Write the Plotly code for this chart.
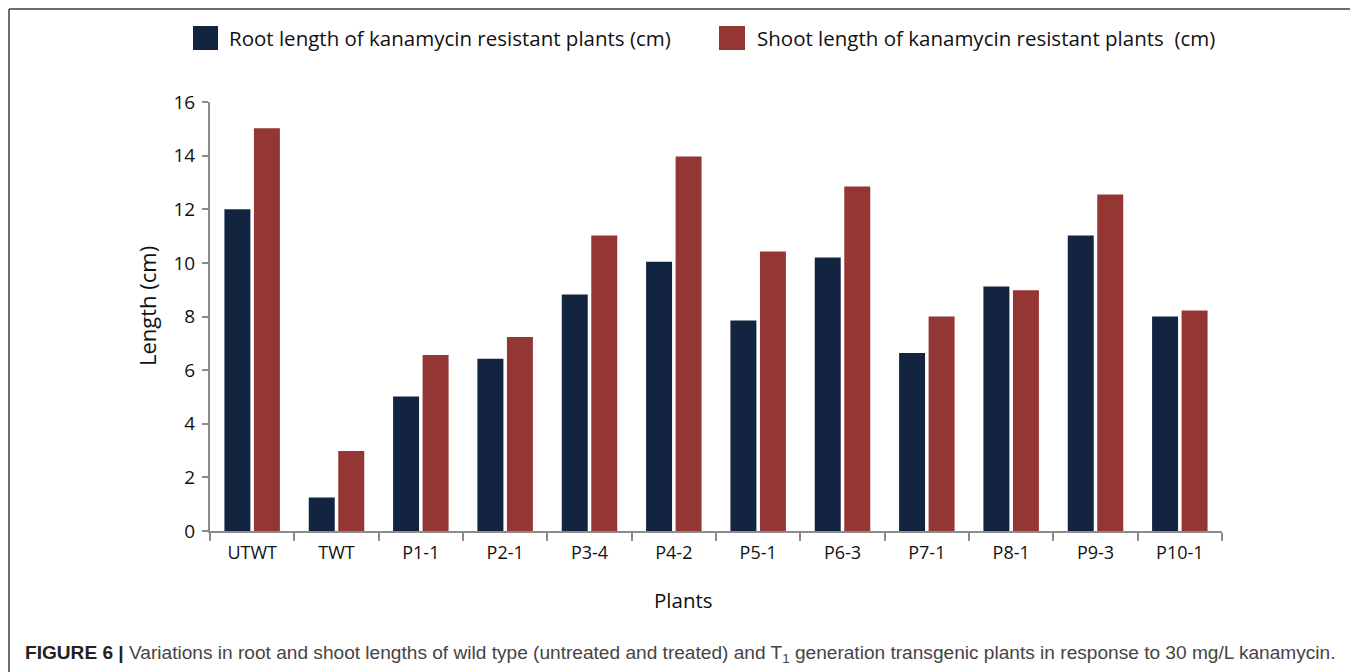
import plotly.graph_objects as go

categories = ["UTWT", "TWT", "P1-1", "P2-1", "P3-4", "P4-2", "P5-1", "P6-3", "P7-1", "P8-1", "P9-3", "P10-1"]
root_length = [12.0, 1.25, 5.02, 6.42, 8.82, 10.04, 7.85, 10.2, 6.64, 9.12, 11.02, 8.0]
shoot_length = [15.02, 2.98, 6.56, 7.24, 11.02, 13.97, 10.42, 12.85, 8.0, 8.98, 12.55, 8.22]
series_names = ["Root length of kanamycin resistant plants (cm)",
                "Shoot length of kanamycin resistant plants  (cm)"]
y_ticks = [0, 2, 4, 6, 8, 10, 12, 14, 16]
x_title = "Plants"
y_title = "Length (cm)"

ROOT_C = "#12243F"
SHOOT_C = "#943634"
FONT = "Open Sans"

# the page body has an 8px margin, so the figure starts at page (8, 8)
OFF = 8
W, H = 1358 - OFF, 672 - OFF
# plot area in page pixels
L, R, T, B = 210, 1222, 102, 531

def px(x):
    return (x - L) / (R - L)
def py(y):
    return (B - y) / (B - T)

fig = go.Figure()
fig.add_trace(go.Bar(x=categories, y=root_length, name=series_names[0],
                     marker=dict(color=ROOT_C, line=dict(width=0)), showlegend=False))
fig.add_trace(go.Bar(x=categories, y=shoot_length, name=series_names[1],
                     marker=dict(color=SHOOT_C, line=dict(width=0)), showlegend=False))

FRAME = dict(color="#6e6e6e", width=2)
shapes = [
    dict(type="line", xref="paper", yref="paper", x0=px(9), x1=px(9), y0=py(9), y1=py(690), line=FRAME),
    dict(type="line", xref="paper", yref="paper", x0=px(9), x1=px(1351), y0=py(9), y1=py(9), line=FRAME),
    dict(type="line", xref="paper", yref="paper", x0=px(1351), x1=px(1351), y0=py(9), y1=py(690), line=FRAME),
    # manual legend swatches
    dict(type="rect", xref="paper", yref="paper", x0=px(193), x1=px(218), y0=py(26), y1=py(50),
         fillcolor=ROOT_C, line=dict(width=0)),
    dict(type="rect", xref="paper", yref="paper", x0=px(719), x1=px(745), y0=py(26), y1=py(50),
         fillcolor=SHOOT_C, line=dict(width=0)),
]

annotations = [
    dict(text=series_names[0], xref="paper", yref="paper", x=px(227), y=py(38), xanchor="left",
         yanchor="middle", showarrow=False, font=dict(family=FONT, size=20.5, color="#111")),
    dict(text=series_names[1], xref="paper", yref="paper", x=px(755), y=py(38), xanchor="left",
         yanchor="middle", showarrow=False, font=dict(family=FONT, size=20.5, color="#111")),
    dict(text=x_title, xref="paper", yref="paper", x=px(683), y=py(600), xanchor="center",
         yanchor="middle", showarrow=False, font=dict(family=FONT, size=20.5, color="#111")),
    dict(text=y_title, xref="paper", yref="paper", x=px(147), y=py(306), xanchor="center",
         yanchor="middle", textangle=-90, showarrow=False, font=dict(family=FONT, size=22, color="#111")),
    dict(text="<b>FIGURE 6 |</b> <span style='color:#444'>Variations in root and shoot lengths of wild type (untreated and treated) and T<sub>1</sub> generation transgenic plants in response to 30 mg/L kanamycin.</span>",
         xref="paper", yref="paper", x=px(23), y=py(654), xanchor="left", yanchor="middle",
         showarrow=False, font=dict(family="Liberation Sans", size=19.1, color="#222")),
]

fig.update_layout(
    width=W, height=H,
    margin=dict(l=L - OFF, r=W - (R - OFF), t=T - OFF, b=H - (B - OFF)),
    paper_bgcolor="white", plot_bgcolor="white",
    barmode="group", bargap=0.30, bargroupgap=0.12,
    shapes=shapes, annotations=annotations,
    font=dict(family=FONT, color="#111"),
)
fig.update_xaxes(
    showline=True, linecolor="#8c8c8c", linewidth=2,
    ticks="outside", tickson="boundaries", ticklen=8, tickcolor="#8c8c8c", tickwidth=2,
    tickfont=dict(family=FONT, size=18, color="#111"), ticklabelstandoff=4,
    showgrid=False,
)
fig.update_yaxes(
    range=[0, 16], tickvals=y_ticks,
    showline=True, linecolor="#8c8c8c", linewidth=2,
    ticks="outside", ticklen=6, tickcolor="#8c8c8c", tickwidth=2,
    tickfont=dict(family=FONT, size=19, color="#111"), ticklabelstandoff=3,
    showgrid=False, zeroline=False,
)

fig.write_html("out.html")
